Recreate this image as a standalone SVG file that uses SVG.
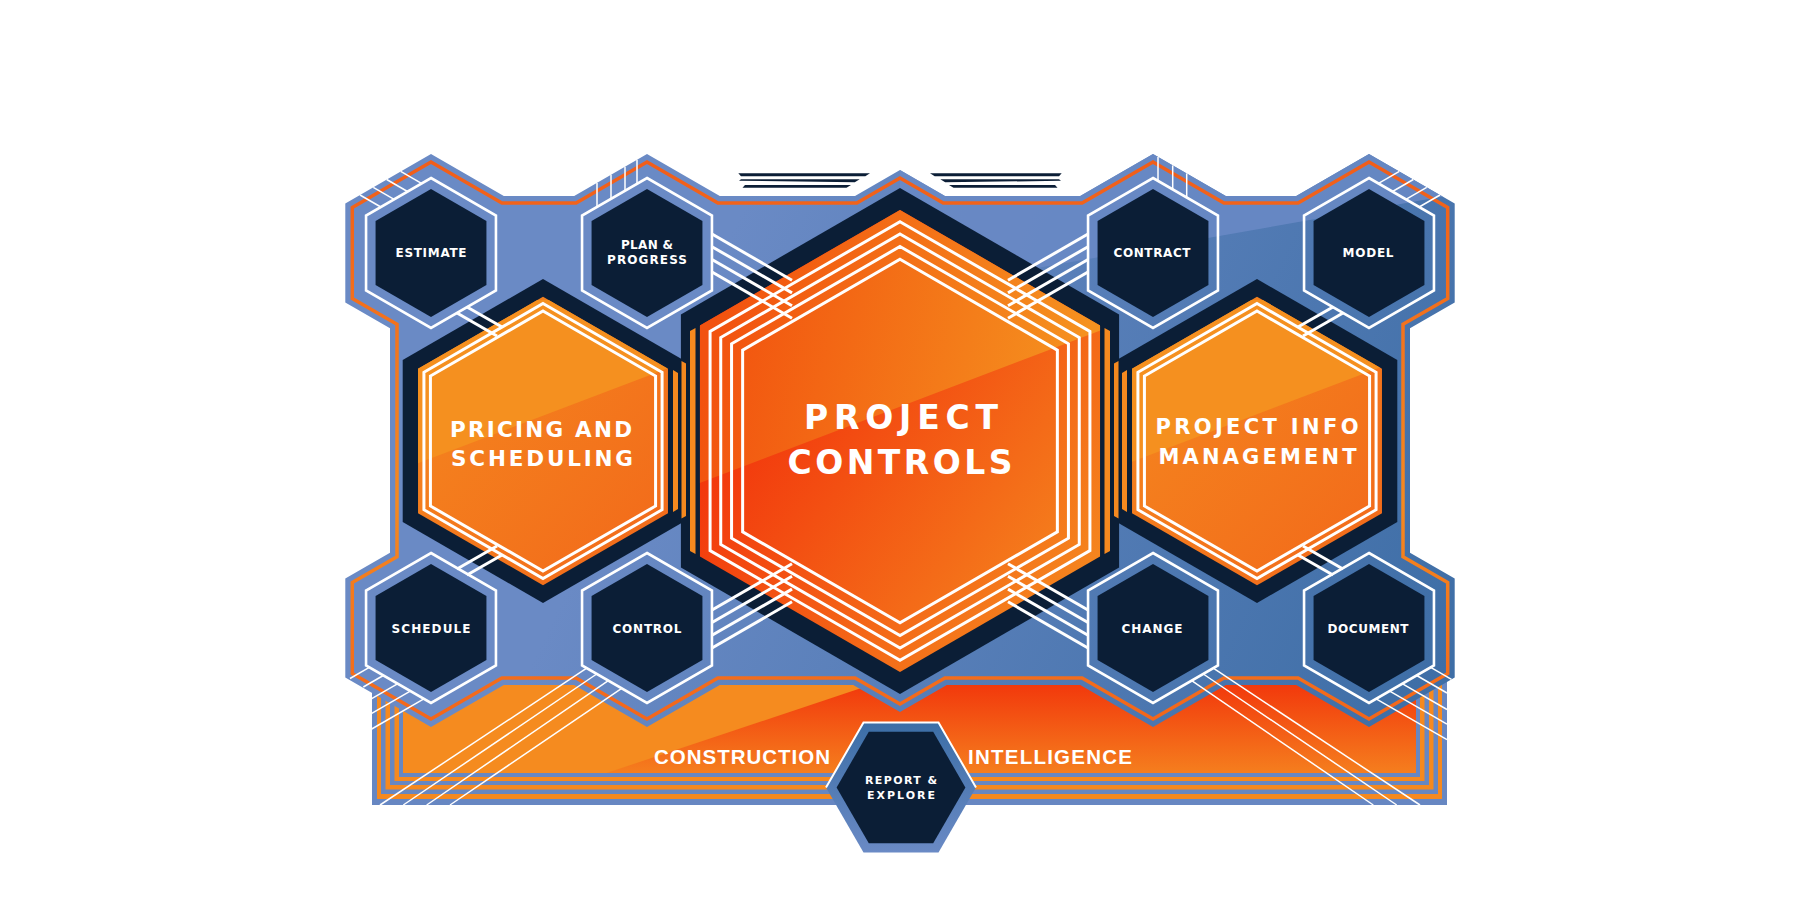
<svg xmlns="http://www.w3.org/2000/svg" width="1800" height="921" viewBox="0 0 1800 921">
<defs>
  <linearGradient id="frameGrad" gradientUnits="userSpaceOnUse" x1="700" y1="300" x2="1455" y2="650">
    <stop offset="0" stop-color="#6a8ac5"/>
    <stop offset="1" stop-color="#3e6ea6"/>
  </linearGradient>
  <linearGradient id="orangeLine" gradientUnits="userSpaceOnUse" x1="0" y1="160" x2="0" y2="730">
    <stop offset="0" stop-color="#f15d19"/>
    <stop offset="0.6" stop-color="#f5891f"/>
    <stop offset="1" stop-color="#f3641a"/>
  </linearGradient>
  <linearGradient id="bandGrad" gradientUnits="userSpaceOnUse" x1="0" y1="685" x2="0" y2="773">
    <stop offset="0" stop-color="#f2390c"/>
    <stop offset="1" stop-color="#f57e1e"/>
  </linearGradient>
  <linearGradient id="centerBase" gradientUnits="userSpaceOnUse" x1="720" y1="400" x2="1060" y2="650">
    <stop offset="0" stop-color="#f2300b"/>
    <stop offset="1" stop-color="#f58a1f"/>
  </linearGradient>
  <linearGradient id="centerGlare" gradientUnits="userSpaceOnUse" x1="720" y1="300" x2="1080" y2="380">
    <stop offset="0" stop-color="#f2520f"/>
    <stop offset="1" stop-color="#f5921f"/>
  </linearGradient>
  <linearGradient id="sideBase" x1="0" y1="0" x2="1" y2="1">
    <stop offset="0" stop-color="#f5891f"/>
    <stop offset="1" stop-color="#f2681a"/>
  </linearGradient>
  <linearGradient id="reportGrad" x1="0" y1="0" x2="0" y2="1">
    <stop offset="0" stop-color="#3c6ea6"/>
    <stop offset="1" stop-color="#6a8ac5"/>
  </linearGradient>
  <clipPath id="clipCenter"><polygon points="900,210 1100.05,325.5 1100.05,556.5 900,672 699.95,556.5 699.95,325.5"/></clipPath>
  <clipPath id="clipPS"><polygon points="543,296.7 667.97,368.85 667.97,513.15 543,585.3 418.03,513.15 418.03,368.85"/></clipPath>
  <clipPath id="clipPIM"><polygon points="1257,296.7 1381.97,368.85 1381.97,513.15 1257,585.3 1132.03,513.15 1132.03,368.85"/></clipPath>
  <clipPath id="clipGlareFrame"><polygon points="900,140 1470,140 1470,191.8 900,292.2"/></clipPath>
  <path id="framePath" d="M345.3,203.5 L431,154 L503.8,196 L574.2,196 L647,154 L719.8,196 L855,196 L900,170 L945,196 L1080.2,196 L1153,154 L1225.8,196 L1296.2,196 L1369,154 L1454.7,203.5 L1454.7,302.5 L1410,328.3 L1410,552.7 L1454.7,578.5 L1454.7,677.5 L1369,727 L1296.2,685 L1225.8,685 L1153,727 L1080.2,685 L946.8,685 L900,712 L853.2,685 L719.8,685 L647,727 L574.2,685 L503.8,685 L431,727 L345.3,677.5 L345.3,578.5 L390,552.7 L390,328.3 L345.3,302.5 Z"/>
  <polygon id="h75" points="0,-75 64.95,-37.5 64.95,37.5 0,75 -64.95,37.5 -64.95,-37.5"/>
  <polygon id="h64" points="0,-64 55.43,-32 55.43,32 0,64 -55.43,32 -55.43,-32"/>
  <style>
    .navy { fill: #0b1e36; }
    .ring { fill: none; stroke: #ffffff; stroke-width: 2.6; }
    .wl { fill: none; stroke: #ffffff; stroke-width: 3; stroke-linejoin: miter; }
    .thick { stroke: #ffffff; stroke-width: 3; fill: none; }
    .thin { stroke: #ffffff; stroke-width: 1.5; fill: none; }
    .lbl { font-family: "DejaVu Sans", "Liberation Sans", sans-serif; font-weight: bold; fill: #ffffff; text-anchor: middle; }
    .s { font-size: 12px; }
    .big { font-size: 21.5px; }
    .huge { font-size: 33px; }
    .band { font-family: "Liberation Sans", Arial, sans-serif; font-weight: bold; font-size: 20.5px; fill: #ffffff; text-anchor: middle; }
    .ob { fill: #f5891f; }
    .bb { fill: #6787c2; }
  </style>
</defs>

<rect x="0" y="0" width="1800" height="921" fill="#ffffff"/>

<!-- bottom band with nested stripes -->
<g id="band">
  <rect x="372" y="650" width="1075" height="155" class="bb"/>
  <rect x="377" y="650" width="1065" height="149" class="ob"/>
  <rect x="381" y="650" width="1057" height="144" class="bb"/>
  <rect x="385.5" y="650" width="1048" height="139.5" class="ob"/>
  <rect x="390" y="650" width="1039" height="135" class="bb"/>
  <rect x="394.5" y="650" width="1030" height="131" class="ob"/>
  <rect x="399" y="650" width="1021" height="127" class="bb"/>
  <rect x="403" y="650" width="1013" height="123" fill="url(#bandGrad)"/>
  <polygon points="403,650 975,650 606.7,773 403,773" fill="#f58b1f"/>
  <text class="band" x="742" y="764" textLength="176" lengthAdjust="spacing">CONSTRUCTION</text>
  <text class="band" x="1050" y="764" textLength="164" lengthAdjust="spacing">INTELLIGENCE</text>
</g>

<!-- blue frame -->
<g id="frame">
  <use href="#framePath" fill="url(#frameGrad)"/>
  <use href="#framePath" fill="#6a8ac5" clip-path="url(#clipGlareFrame)" opacity="0.85"/>
  <path d="M352.3,207.55 L431,162.1 L501.9,203 L576.1,203 L647,162.1 L717.9,203 L856.8,203 L900,178.1 L943.2,203 L1082.1,203 L1153,162.1 L1223.9,203 L1298.1,203 L1369,162.1 L1447.7,207.55 L1447.7,298.45 L1403,324.2 L1403,556.7 L1447.7,582.55 L1447.7,673.45 L1369,718.9 L1298.1,678 L1223.9,678 L1153,718.9 L1082.1,678 L944.9,678 L900,703.9 L855.1,678 L717.9,678 L647,718.9 L576.1,678 L501.9,678 L431,718.9 L352.3,673.45 L352.3,582.55 L397,556.7 L397,324.2 L352.3,298.45 Z" fill="none" stroke="url(#orangeLine)" stroke-width="3.5"/>
</g>

<!-- speed lines at top -->
<g id="speedlines" class="navy">
  <polygon points="738.3,173.3 870,173.3 865.3,176.2 741,176.2"/>
  <polygon points="741,179.3 859.7,179.3 854.8,182.3 739,180.8"/>
  <polygon points="745,185 851,185 846.5,187.8 742.5,187.8"/>
  <polygon points="1061.7,173.3 930,173.3 934.7,176.2 1059,176.2"/>
  <polygon points="1059,179.3 940.3,179.3 945.2,182.3 1061,180.8"/>
  <polygon points="1055,185 949,185 953.5,187.8 1057.5,187.8"/>
</g>

<!-- dark backing hexes -->
<g id="backing" class="navy">
  <polygon points="543,279 683.3,360 683.3,522 543,603 402.7,522 402.7,360"/>
  <polygon points="1257,279 1397.3,360 1397.3,522 1257,603 1116.7,522 1116.7,360"/>
  <polygon points="900,188 1119.1,314.5 1119.1,567.5 900,694 680.9,567.5 680.9,314.5"/>
</g>

<!-- orange side bars -->
<g id="bars" fill="#f5891f">
  <polygon points="690,331 695.5,328 695.5,554 690,551"/>
  <polygon points="681.5,361 686,363.5 686,516 681.5,518.5"/>
  <polygon points="673,370 678,373 678,509 673,512"/>
  <polygon points="1104.5,328 1110,331 1110,551 1104.5,554"/>
  <polygon points="1114,363.5 1118.5,361 1118.5,518.5 1114,516"/>
  <polygon points="1122,373 1127,370 1127,512 1122,509"/>
</g>

<!-- Pricing and Scheduling -->
<g id="pricing-scheduling">
  <polygon points="543,296.7 667.97,368.85 667.97,513.15 543,585.3 418.03,513.15 418.03,368.85" fill="url(#sideBase)"/>
  <polygon points="400,300 690,300 690,360 400,470" fill="#f5901f" clip-path="url(#clipPS)"/>
  <polygon class="wl" points="543,303.5 662.08,372.25 662.08,509.75 543,578.5 423.92,509.75 423.92,372.25"/>
  <polygon class="wl" points="543,311 655.58,376 655.58,506 543,571 430.42,506 430.42,376"/>
  <text class="lbl big" x="541" y="436.7" textLength="182" lengthAdjust="spacing">PRICING AND</text>
  <text class="lbl big" x="542" y="466" textLength="182" lengthAdjust="spacing">SCHEDULING</text>
</g>

<!-- Project Info Management -->
<g id="project-info-management">
  <polygon points="1257,296.7 1381.97,368.85 1381.97,513.15 1257,585.3 1132.03,513.15 1132.03,368.85" fill="url(#sideBase)"/>
  <polygon points="1110,300 1400,300 1400,360 1110,470" fill="#f5901f" clip-path="url(#clipPIM)"/>
  <polygon class="wl" points="1257,303.5 1376.08,372.25 1376.08,509.75 1257,578.5 1137.92,509.75 1137.92,372.25"/>
  <polygon class="wl" points="1257,311 1369.58,376 1369.58,506 1257,571 1144.42,506 1144.42,376"/>
  <text class="lbl" style="font-size:21px" x="1257" y="434" textLength="203" lengthAdjust="spacing">PROJECT INFO</text>
  <text class="lbl" style="font-size:21px" x="1257.5" y="463.5" textLength="198" lengthAdjust="spacing">MANAGEMENT</text>
</g>

<!-- Project Controls -->
<g id="project-controls">
  <polygon points="900,210 1100.05,325.5 1100.05,556.5 900,672 699.95,556.5 699.95,325.5" fill="url(#centerBase)"/>
  <polygon points="690,200 1110,200 1110,326.8 690,486.8" fill="url(#centerGlare)" clip-path="url(#clipCenter)"/>
  <polygon class="wl" points="900,221.7 1089.92,331.35 1089.92,550.65 900,660.3 710.08,550.65 710.08,331.35"/>
  <polygon class="wl" points="900,234 1079.27,337.5 1079.27,544.5 900,648 720.73,544.5 720.73,337.5"/>
  <polygon class="wl" points="900,246.5 1068.44,343.75 1068.44,538.25 900,635.5 731.56,538.25 731.56,343.75"/>
  <polygon class="wl" points="900,259.3 1057.36,350.15 1057.36,531.85 900,622.7 742.64,531.85 742.64,350.15"/>
  <text class="lbl huge" x="901" y="429.3" textLength="194" lengthAdjust="spacing">PROJECT</text>
  <text class="lbl huge" x="900" y="474" textLength="225" lengthAdjust="spacing">CONTROLS</text>
</g>

<!-- connectors (white circuit lines) -->
<g id="connectors" stroke-linecap="butt">
  <!-- estimate / schedule / model / document to side hexes -->
  <line class="thick" x1="457" y1="313" x2="497" y2="336"/>
  <line class="thick" x1="467" y1="307" x2="502" y2="327"/>
  <line class="thick" x1="457" y1="569" x2="497" y2="546"/>
  <line class="thick" x1="467" y1="575" x2="502" y2="555"/>
  <line class="thick" x1="1343" y1="313" x2="1303" y2="336"/>
  <line class="thick" x1="1333" y1="307" x2="1298" y2="327"/>
  <line class="thick" x1="1343" y1="569" x2="1303" y2="546"/>
  <line class="thick" x1="1333" y1="575" x2="1298" y2="555"/>
  <!-- plan & progress to center -->
  <line class="thick" x1="712" y1="234" x2="792" y2="280.2"/>
  <line class="thick" x1="712" y1="246.7" x2="792" y2="292.9"/>
  <line class="thick" x1="712" y1="259.5" x2="792" y2="305.7"/>
  <line class="thick" x1="712" y1="272" x2="792" y2="318.2"/>
  <!-- contract to center -->
  <line class="thick" x1="1088" y1="234" x2="1008" y2="280.2"/>
  <line class="thick" x1="1088" y1="246.7" x2="1008" y2="292.9"/>
  <line class="thick" x1="1088" y1="259.5" x2="1008" y2="305.7"/>
  <line class="thick" x1="1088" y1="272" x2="1008" y2="318.2"/>
  <!-- control to center -->
  <line class="thick" x1="712" y1="648" x2="792" y2="601.8"/>
  <line class="thick" x1="712" y1="635.3" x2="792" y2="589.1"/>
  <line class="thick" x1="712" y1="622.5" x2="792" y2="576.3"/>
  <line class="thick" x1="712" y1="610" x2="792" y2="563.8"/>
  <!-- change to center -->
  <line class="thick" x1="1088" y1="648" x2="1008" y2="601.8"/>
  <line class="thick" x1="1088" y1="635.3" x2="1008" y2="589.1"/>
  <line class="thick" x1="1088" y1="622.5" x2="1008" y2="576.3"/>
  <line class="thick" x1="1088" y1="610" x2="1008" y2="563.8"/>
  <!-- estimate ticks -->
  <line class="thin" x1="360" y1="195" x2="380.8" y2="207"/>
  <line class="thin" x1="373.3" y1="187.3" x2="394.1" y2="199.3"/>
  <line class="thin" x1="386.7" y1="179.5" x2="407.5" y2="191.5"/>
  <line class="thin" x1="400.7" y1="171.4" x2="421.5" y2="183.4"/>
  <!-- model ticks -->
  <line class="thin" x1="1440" y1="195" x2="1419.2" y2="207"/>
  <line class="thin" x1="1426.7" y1="187.3" x2="1405.9" y2="199.3"/>
  <line class="thin" x1="1413.3" y1="179.5" x2="1392.5" y2="191.5"/>
  <line class="thin" x1="1399.3" y1="171.4" x2="1378.5" y2="183.4"/>
  <!-- plan ticks -->
  <line class="thin" x1="597" y1="182.9" x2="597" y2="206.9"/>
  <line class="thin" x1="611" y1="174.8" x2="611" y2="198.8"/>
  <line class="thin" x1="625" y1="166.7" x2="625" y2="190.7"/>
  <line class="thin" x1="637" y1="159.8" x2="637" y2="183.8"/>
  <!-- contract ticks -->
  <line class="thin" x1="1158" y1="156.9" x2="1158" y2="180.9"/>
  <line class="thin" x1="1172.7" y1="165.4" x2="1172.7" y2="189.4"/>
  <line class="thin" x1="1186.7" y1="173.4" x2="1186.7" y2="197.4"/>
  <!-- schedule ticks -->
  <line class="thin" x1="369.3" y1="667.4" x2="350" y2="678.5"/>
  <line class="thin" x1="383.3" y1="675.5" x2="363.3" y2="687"/>
  <line class="thin" x1="397" y1="684.1" x2="371.7" y2="698.7"/>
  <line class="thin" x1="410.7" y1="690.9" x2="371.7" y2="713.4"/>
  <line class="thin" x1="424.3" y1="698.6" x2="371.7" y2="729"/>
  <!-- document ticks -->
  <line class="thin" x1="1430.7" y1="667.4" x2="1451.5" y2="679.4"/>
  <line class="thin" x1="1416.7" y1="675.5" x2="1447" y2="693"/>
  <line class="thin" x1="1403" y1="684.1" x2="1447" y2="709.5"/>
  <line class="thin" x1="1389.3" y1="690.9" x2="1447" y2="724.2"/>
  <line class="thin" x1="1375.7" y1="698.6" x2="1447" y2="739.7"/>
  <!-- control long lines -->
  <line class="thin" x1="586.7" y1="668.2" x2="380" y2="805"/>
  <line class="thin" x1="596.7" y1="674" x2="403.3" y2="805"/>
  <line class="thin" x1="608.3" y1="680.7" x2="426.7" y2="805"/>
  <line class="thin" x1="621.7" y1="688.4" x2="450" y2="805"/>
  <!-- change long lines -->
  <line class="thin" x1="1213.3" y1="668.2" x2="1420" y2="805"/>
  <line class="thin" x1="1203.3" y1="674" x2="1396.7" y2="805"/>
  <line class="thin" x1="1191.7" y1="680.7" x2="1373.3" y2="805"/>
</g>

<!-- small nodes -->
<g id="estimate">
  <use href="#h75" x="431" y="253" class="ring"/>
  <use href="#h64" x="431" y="253" class="navy"/>
  <text class="lbl s" x="431" y="257" textLength="71" lengthAdjust="spacing">ESTIMATE</text>
</g>
<g id="plan-progress">
  <use href="#h75" x="647" y="253" class="ring"/>
  <use href="#h64" x="647" y="253" class="navy"/>
  <text class="lbl s" x="647" y="249" textLength="52" lengthAdjust="spacing">PLAN &amp;</text>
  <text class="lbl s" x="647" y="264.3" textLength="80" lengthAdjust="spacing">PROGRESS</text>
</g>
<g id="contract">
  <use href="#h75" x="1153" y="253" class="ring"/>
  <use href="#h64" x="1153" y="253" class="navy"/>
  <text class="lbl s" x="1152" y="257" textLength="77" lengthAdjust="spacing">CONTRACT</text>
</g>
<g id="model">
  <use href="#h75" x="1369" y="253" class="ring"/>
  <use href="#h64" x="1369" y="253" class="navy"/>
  <text class="lbl s" x="1368" y="257" textLength="51" lengthAdjust="spacing">MODEL</text>
</g>
<g id="schedule">
  <use href="#h75" x="431" y="628" class="ring"/>
  <use href="#h64" x="431" y="628" class="navy"/>
  <text class="lbl s" x="431" y="633" textLength="79" lengthAdjust="spacing">SCHEDULE</text>
</g>
<g id="control">
  <use href="#h75" x="647" y="628" class="ring"/>
  <use href="#h64" x="647" y="628" class="navy"/>
  <text class="lbl s" x="647" y="633" textLength="69" lengthAdjust="spacing">CONTROL</text>
</g>
<g id="change">
  <use href="#h75" x="1153" y="628" class="ring"/>
  <use href="#h64" x="1153" y="628" class="navy"/>
  <text class="lbl s" x="1152" y="633" textLength="61" lengthAdjust="spacing">CHANGE</text>
</g>
<g id="document">
  <use href="#h75" x="1369" y="628" class="ring"/>
  <use href="#h64" x="1369" y="628" class="navy"/>
  <text class="lbl s" x="1368" y="633" textLength="81" lengthAdjust="spacing">DOCUMENT</text>
</g>

<!-- report & explore -->
<g id="report-explore">
  <polygon points="976,787.5 938.5,852.45 863.5,852.45 826,787.5 863.5,722.55 938.5,722.55" fill="url(#reportGrad)"/>
  <polyline points="826,787.5 863.5,722.55 938.5,722.55 976,787.5" fill="none" stroke="#ffffff" stroke-width="2"/>
  <polygon points="965.4,787.5 933.2,843.3 868.8,843.3 836.6,787.5 868.8,731.7 933.2,731.7" class="navy"/>
  <text class="lbl" style="font-size:11px" x="901" y="784" textLength="72" lengthAdjust="spacing">REPORT &amp;</text>
  <text class="lbl" style="font-size:11px" x="901" y="799.3" textLength="68" lengthAdjust="spacing">EXPLORE</text>
</g>
</svg>
